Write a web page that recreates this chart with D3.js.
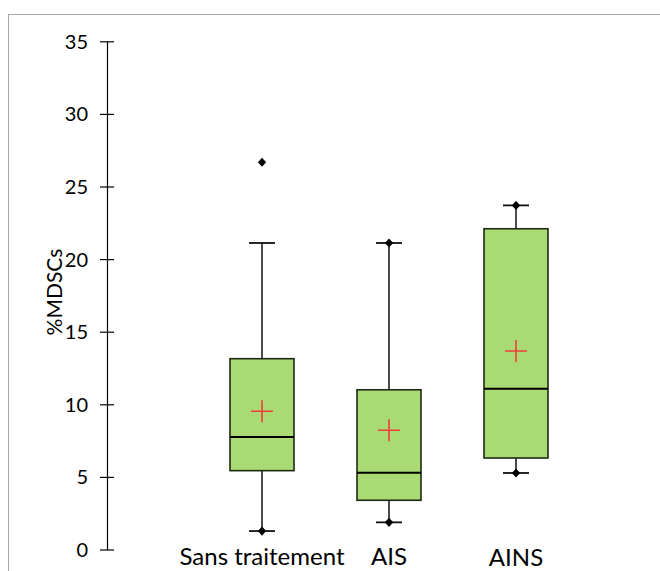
<!DOCTYPE html>
<html>
<head>
<meta charset="utf-8">
<script src="https://cdn.jsdelivr.net/npm/d3@7"></script>
<style>
  html, body { margin: 0; padding: 0; background: #fff; }
  svg { display: block; }
  text { font-family: Lato, "Open Sans", sans-serif; fill: #000; }
</style>
</head>
<body>
<svg id="chart" width="660" height="571"></svg>
<script>
// ---- data ----
const categories = ["Sans traitement", "AIS", "AINS"];
const minVals    = [1.27, 1.87, 5.27];
const q1Vals     = [5.43, 3.39, 6.30];
const medianVals = [7.75, 5.29, 11.07];
const meanVals   = [9.52, 8.21, 13.67];
const q3Vals     = [13.14, 11.00, 22.09];
const maxWhisker = [21.11, 21.11, 23.70];
const maxVals    = [26.67, 21.11, 23.70];
const yTicks     = [0, 5, 10, 15, 20, 25, 30, 35];
const yLabel     = "%MDSCs";

const svg = d3.select("#chart");

// frame
svg.append("rect")
  .attr("x", 8.5).attr("y", 14.5)
  .attr("width", 700).attr("height", 600)
  .attr("fill", "none").attr("stroke", "#a6a6a6").attr("stroke-width", 1);

const y = d3.scaleLinear().domain([0, 35]).range([549.5, 41.3]);
const x = d3.scalePoint().domain(categories).range([262, 516]);
const boxW = 64, capW = 26;

// y axis
const axisX = 107;
const yAxis = svg.append("g")
  .attr("transform", `translate(${axisX},0)`)
  .call(d3.axisLeft(y).tickValues(yTicks).tickSizeOuter(0).tickSizeInner(7).tickFormat(d3.format("d")));
yAxis.select(".domain").attr("stroke", "#000").attr("stroke-width", 1.2);
yAxis.selectAll(".tick line").attr("x1", -7).attr("x2", 7).attr("stroke", "#000").attr("stroke-width", 1.2);
yAxis.selectAll(".tick text")
  .attr("x", -19)
  .attr("dy", "0.35em")
  .style("font-size", "20px")
  .style("font-family", "Lato, sans-serif")
  .attr("fill", "#000");

// y label
svg.append("text")
  .attr("transform", "translate(62,292) rotate(-90)")
  .attr("text-anchor", "middle")
  .style("font-size", "21px")
  .text(yLabel);

const data = categories.map((c, i) => ({
  c, min: minVals[i], q1: q1Vals[i], med: medianVals[i], mean: meanVals[i],
  q3: q3Vals[i], wmax: maxWhisker[i], max: maxVals[i]
}));

const g = svg.append("g");
const groups = g.selectAll("g.box").data(data).join("g").attr("class", "box");

// whiskers
groups.append("line")
  .attr("x1", d => x(d.c)).attr("x2", d => x(d.c))
  .attr("y1", d => y(d.q3)).attr("y2", d => y(d.wmax))
  .attr("stroke", "#111").attr("stroke-width", 1.5);
groups.append("line")
  .attr("x1", d => x(d.c)).attr("x2", d => x(d.c))
  .attr("y1", d => y(d.q1)).attr("y2", d => y(d.min))
  .attr("stroke", "#111").attr("stroke-width", 1.5);
// caps
groups.append("line")
  .attr("x1", d => x(d.c) - capW / 2).attr("x2", d => x(d.c) + capW / 2)
  .attr("y1", d => y(d.wmax)).attr("y2", d => y(d.wmax))
  .attr("stroke", "#111").attr("stroke-width", 1.8);
groups.append("line")
  .attr("x1", d => x(d.c) - capW / 2).attr("x2", d => x(d.c) + capW / 2)
  .attr("y1", d => y(d.min)).attr("y2", d => y(d.min))
  .attr("stroke", "#111").attr("stroke-width", 1.8);

// boxes
groups.append("rect")
  .attr("x", d => x(d.c) - boxW / 2)
  .attr("width", boxW)
  .attr("y", d => y(d.q3))
  .attr("height", d => y(d.q1) - y(d.q3))
  .attr("fill", "#a9da74")
  .attr("stroke", "#1e2a14").attr("stroke-width", 1.6);

// median
groups.append("line")
  .attr("x1", d => x(d.c) - boxW / 2).attr("x2", d => x(d.c) + boxW / 2)
  .attr("y1", d => y(d.med)).attr("y2", d => y(d.med))
  .attr("stroke", "#000").attr("stroke-width", 2);

// mean cross
const cs = 11;
groups.append("path")
  .attr("d", d => `M${x(d.c) - cs},${y(d.mean)}H${x(d.c) + cs}M${x(d.c)},${y(d.mean) - cs}V${y(d.mean) + cs}`)
  .attr("stroke", "#f23d3d").attr("stroke-width", 1.6).attr("fill", "none");

// min / max points
const diamond = d3.symbol().type(d3.symbolDiamond2).size(44);
groups.append("path")
  .attr("d", diamond)
  .attr("transform", d => `translate(${x(d.c)},${y(d.min)}) scale(1,1.1)`)
  .attr("fill", "#000");
groups.append("path")
  .attr("d", diamond)
  .attr("transform", d => `translate(${x(d.c)},${y(d.max)}) scale(1,1.1)`)
  .attr("fill", "#000");

// category labels
svg.selectAll("text.cat").data(categories).join("text")
  .attr("class", "cat")
  .attr("x", d => x(d))
  .attr("y", (d, i) => i === 2 ? 566 : 565)
  .attr("text-anchor", "middle")
  .style("font-size", "24px")
  .text(d => d);
</script>
</body>
</html>
